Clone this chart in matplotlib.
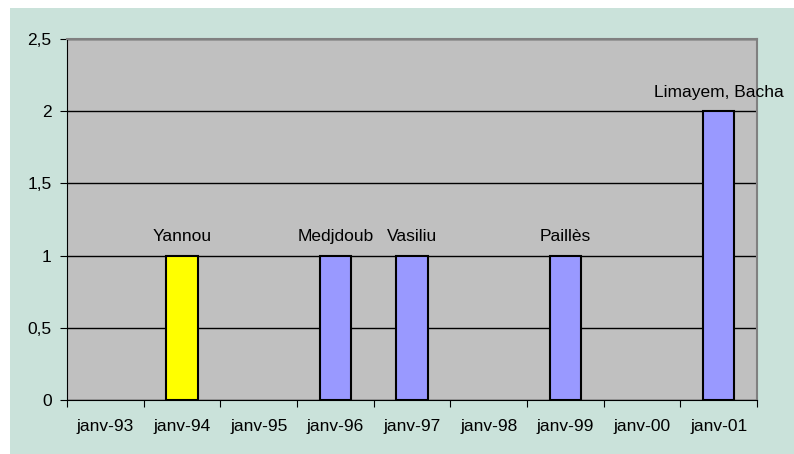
import matplotlib.pyplot as plt

plt.rcParams['font.family'] = ['Liberation Sans', 'DejaVu Sans']

categories = ['janv-93', 'janv-94', 'janv-95', 'janv-96', 'janv-97',
              'janv-98', 'janv-99', 'janv-00', 'janv-01']
values = [0, 1, 0, 1, 1, 0, 1, 0, 2]
names = ['', 'Yannou', '', 'Medjdoub', 'Vasiliu', '', 'Paillès', '', 'Limayem, Bacha']
colors = ['#9999ff', '#ffff00', '#9999ff', '#9999ff', '#9999ff',
          '#9999ff', '#9999ff', '#9999ff', '#9999ff']

W, H = 794, 454
fig = plt.figure(figsize=(W / 100, H / 100), dpi=100)
fig.patch.set_facecolor('white')
# fond de la zone graphique
bg = plt.Rectangle((10 / W, 0), 1 - 10 / W, 1 - 8 / H, transform=fig.transFigure,
                   facecolor='#cae2da', edgecolor='none', zorder=-10)
fig.patches.append(bg)

ax = fig.add_axes([67 / W, 1 - 400 / H, (757 - 67) / W, (400 - 39) / H])
ax.set_facecolor('#c0c0c0')

# seulement les barres non nulles
idx = [i for i, v in enumerate(values) if v > 0]
ax.bar(idx, [values[i] for i in idx], width=0.41, color=[colors[i] for i in idx],
       edgecolor='black', linewidth=1.5, zorder=3)
for i, (v, n) in enumerate(zip(values, names)):
    if n:
        ax.annotate(n, (i, v), xytext=(0, 8), textcoords='offset points',
                    ha='center', va='bottom', fontsize=12.5, zorder=4,
                    annotation_clip=False)

ax.set_xlim(-0.5, len(categories) - 0.5)
ax.set_ylim(0, 2.5)
ax.set_yticks([0, 0.5, 1, 1.5, 2, 2.5])
ax.set_yticklabels(['0', '0,5', '1', '1,5', '2', '2,5'])
ax.set_xticks([i + 0.5 for i in range(-1, len(categories))], minor=False)
ax.set_xticklabels([])
ax.set_xticks(list(range(len(categories))), minor=True)
ax.set_xticklabels(categories, minor=True)
ax.tick_params(axis='x', which='minor', length=0, pad=14, labelsize=12.5)
ax.tick_params(axis='x', which='major', length=5, direction='out', color='black')
ax.tick_params(axis='y', length=5, labelsize=12.5, pad=6)
ax.grid(axis='y', color='black', linewidth=1, zorder=1)
ax.spines['top'].set_color('#808080')
ax.spines['right'].set_color('#808080')
ax.spines['top'].set_linewidth(1.5)
ax.spines['right'].set_linewidth(1.5)
ax.spines['left'].set_color('black')
ax.spines['bottom'].set_color('black')

fig.savefig('out.png', dpi=100, facecolor=fig.get_facecolor())
